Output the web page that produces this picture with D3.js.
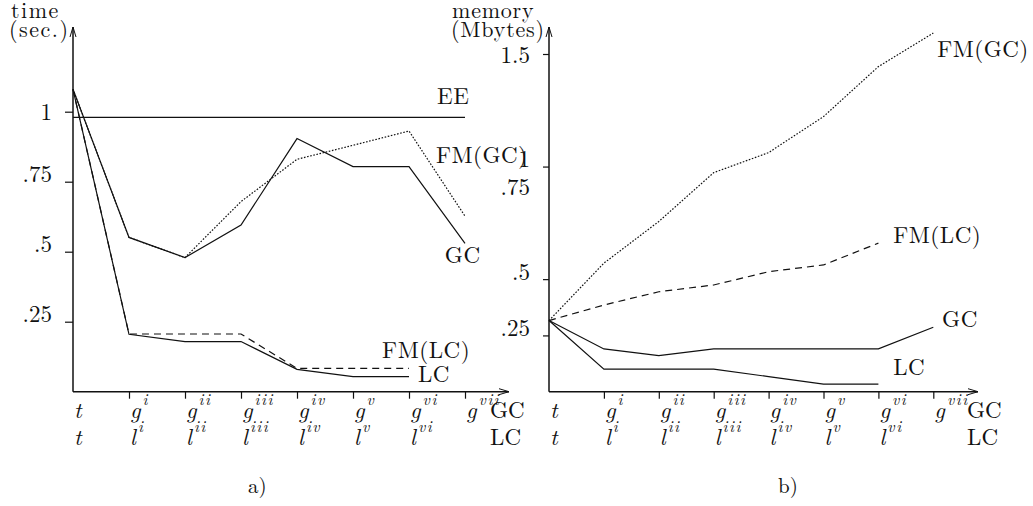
<!DOCTYPE html>
<html>
<head>
<meta charset="utf-8">
<script src="https://cdn.jsdelivr.net/npm/d3@7/dist/d3.min.js"></script>
<style>
  html, body { margin: 0; padding: 0; background: #fff; }
  svg { display: block; }
  svg text { font-family: "Latin Modern Roman", "Liberation Serif", serif !important; fill: #111; }
</style>
</head>
<body>
<svg id="chart" width="1033" height="506"></svg>
<script>
// ---------- data ----------
const stepSup = ["", "i", "ii", "iii", "iv", "v", "vi", "vii"];
const topRowBase = ["t", "g", "g", "g", "g", "g", "g", "g"];
const bottomRowBase = ["t", "l", "l", "l", "l", "l", "l"];
const rowNames = ["GC", "LC"];

// a) time (sec.)
const timeTicks = [1, 0.75, 0.5, 0.25];
const timeTickLabels = ["1", ".75", ".5", ".25"];
const timeEE = 0.98;
const timeGC   = [1.08, 0.551, 0.479, 0.595, 0.904, 0.804, 0.804, 0.53];
const timeFMGC = [1.08, 0.551, 0.479, 0.679, 0.83, 0.88, 0.931, 0.627];
const timeLC   = [1.08, 0.205, 0.179, 0.179, 0.080, 0.054, 0.054];
const timeFMLC = [1.08, 0.206, 0.206, 0.206, 0.083, 0.083, 0.083];

// b) memory (Mbytes)
const memTicks = [1.5, 1, 0.5, 0.25];
const memTickLabels = ["1.5", "1", ".5", ".25"];
const memLooseLabel = { value: 0.875, text: ".75" };
const memGC   = [0.316, 0.19, 0.16, 0.19, 0.19, 0.19, 0.19, 0.286];
const memLC   = [0.316, 0.1, 0.1, 0.1, 0.067, 0.034, 0.034];
const memFMGC = [0.316, 0.571, 0.756, 0.973, 1.062, 1.222, 1.444, 1.593];
const memFMLC = [0.316, 0.385, 0.444, 0.474, 0.533, 0.563, 0.66];

// ---------- drawing ----------
const svg = d3.select("#chart");
const FS = 23;

const defs = svg.append("defs");
defs.append("marker")
  .attr("id", "arrow")
  .attr("viewBox", "-11 -4 12 8")
  .attr("refX", 0).attr("refY", 0)
  .attr("markerWidth", 12).attr("markerHeight", 8)
  .attr("markerUnits", "userSpaceOnUse")
  .attr("orient", "auto")
  .append("path")
  .attr("d", "M-10,-3 L0,0 L-10,3")
  .attr("fill", "none").attr("stroke", "#111").attr("stroke-width", 1);

const styles = {
  solid:  { dash: null },
  dotted: { dash: "1.6,1.6" },
  dashed: { dash: "7,5" }
};

function panel(opt) {
  const g = svg.append("g");
  const x = d3.scaleLinear().domain([0, 7]).range([opt.x0, opt.x7]);
  const y = d3.scaleLinear().domain([0, opt.ymaxVal]).range([opt.y0, opt.ymaxPx]);

  // axes with arrows
  g.append("line").attr("x1", opt.x0).attr("y1", opt.y0).attr("x2", opt.xArrow).attr("y2", opt.y0)
    .attr("stroke", "#111").attr("stroke-width", 1.5).attr("marker-end", "url(#arrow)");
  g.append("line").attr("x1", opt.x0).attr("y1", opt.y0).attr("x2", opt.x0).attr("y2", opt.yArrow)
    .attr("stroke", "#111").attr("stroke-width", 1.5).attr("marker-end", "url(#arrow)");

  // y ticks (outward, left)
  const yAxis = d3.axisLeft(y).tickValues(opt.yTicks)
    .tickFormat((d, i) => opt.yTickLabels[i]).tickSize(opt.yTickLen).tickPadding(opt.yPad);
  const ya = g.append("g").attr("transform", `translate(${opt.x0},0)`).call(yAxis);
  ya.attr("font-family", null).attr("font-size", null);
  ya.select(".domain").remove();
  ya.selectAll(".tick line").attr("stroke", "#111").attr("stroke-width", 1.2);
  ya.selectAll(".tick text")
    .attr("font-size", FS).attr("fill", "#111")
    .attr("dy", (d, i) => i === 0 ? "0.35em" : "0em");
  if (opt.looseLabel) {
    g.append("text").attr("x", opt.x0 - opt.yTickLen - opt.yPad).attr("y", y(opt.looseLabel.value))
      .attr("text-anchor", "end").attr("font-size", FS).text(opt.looseLabel.text);
  }

  // x ticks (down)
  const xAxis = d3.axisBottom(x).tickValues(d3.range(1, 8)).tickSize(7).tickFormat("");
  const xa = g.append("g").attr("transform", `translate(0,${opt.y0})`).call(xAxis);
  xa.select(".domain").remove();
  xa.selectAll(".tick line").attr("stroke", "#111").attr("stroke-width", 1.2);

  // x labels: two rows
  function row(bases, baseline) {
    bases.forEach((b, i) => {
      const t = g.append("text").attr("x", x(i) + 1).attr("y", baseline)
        .attr("font-size", FS).attr("font-style", "italic");
      t.append("tspan").text(b);
      if (stepSup[i]) {
        t.append("tspan").attr("dy", -13).attr("dx", 2).attr("font-size", 16)
          .attr("letter-spacing", 1.5).text(stepSup[i]);
      }
    });
  }
  row(topRowBase, 418);
  row(bottomRowBase, 445);
  g.append("text").attr("x", opt.rowNameX).attr("y", 418).attr("font-size", FS).text(rowNames[0]);
  g.append("text").attr("x", opt.rowNameX).attr("y", 445).attr("font-size", FS).text(rowNames[1]);

  // axis title
  g.append("text").attr("x", opt.titleX).attr("y", 18).attr("font-size", 22)
    .attr("letter-spacing", opt.titleLS).text(opt.title1);
  g.append("text").attr("x", opt.titleX2).attr("y", 37).attr("font-size", 22)
    .attr("letter-spacing", opt.titleLS).text(opt.title2);

  // panel caption
  g.append("text").attr("x", opt.capX).attr("y", 493).attr("font-size", 21).text(opt.caption);

  // series
  const line = d3.line().x((d, i) => x(i)).y(d => y(d));
  opt.series.forEach(s => {
    g.append("path").datum(s.values).attr("d", line)
      .attr("fill", "none").attr("stroke", "#111").attr("stroke-width", 1.2)
      .attr("stroke-dasharray", styles[s.style].dash);
  });
  opt.labels.forEach(l => {
    g.append("text").attr("x", x(l.xi)).attr("y", y(l.v)).attr("font-size", FS)
      .attr("letter-spacing", 0.5).text(l.text);
  });
  return { x, y, g };
}

const A = panel({
  x0: 73, x7: 465, xArrow: 509, y0: 391.7, yArrow: 27,
  ymaxVal: 1, ymaxPx: 111.7,
  yTicks: timeTicks, yTickLabels: timeTickLabels, yTickLen: 8, yPad: 13,
  rowNameX: 490, title1: "time", title2: "(sec.)", titleX: 11, titleX2: 9, titleLS: 1.5,
  capX: 248, caption: "a)",
  series: [
    { values: timeGC, style: "solid" },
    { values: timeFMGC, style: "dotted" },
    { values: timeLC, style: "solid" },
    { values: timeFMLC, style: "dashed" }
  ],
  labels: [
    { text: "EE", xi: 6.5, v: 1.027 },
    { text: "FM(GC)", xi: 6.48, v: 0.817 },
    { text: "GC", xi: 6.64, v: 0.46 },
    { text: "FM(LC)", xi: 5.52, v: 0.12 },
    { text: "LC", xi: 6.16, v: 0.035 }
  ]
});
// EE horizontal reference line
A.g.append("line").attr("x1", A.x(0)).attr("x2", A.x(7)).attr("y1", A.y(timeEE)).attr("y2", A.y(timeEE))
  .attr("stroke", "#111").attr("stroke-width", 1.2);

panel({
  x0: 549, x7: 933.3, xArrow: 978, y0: 391.7, yArrow: 27,
  ymaxVal: 1.5, ymaxPx: 54,
  yTicks: memTicks, yTickLabels: memTickLabels, yTickLen: 6, yPad: 13,
  looseLabel: memLooseLabel,
  rowNameX: 967, title1: "memory", title2: "(Mbytes)", titleX: 452, titleX2: 451, titleLS: 0.8,
  capX: 778, caption: "b)",
  series: [
    { values: memFMGC, style: "dotted" },
    { values: memFMLC, style: "dashed" },
    { values: memGC, style: "solid" },
    { values: memLC, style: "solid" }
  ],
  labels: [
    { text: "FM(GC)", xi: 7.07, v: 1.488 },
    { text: "FM(LC)", xi: 6.27, v: 0.661 },
    { text: "GC", xi: 7.16, v: 0.288 },
    { text: "LC", xi: 6.27, v: 0.074 }
  ]
});
</script>
</body>
</html>
